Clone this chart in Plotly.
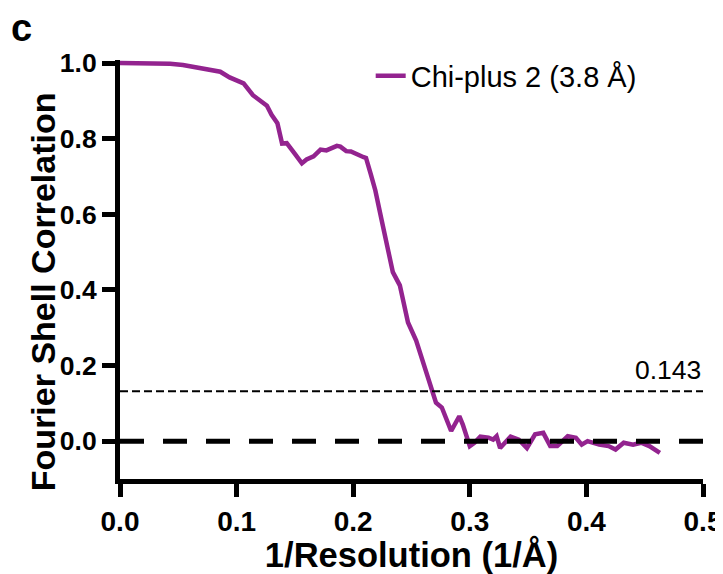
import plotly.graph_objects as go

# FSC curve
resolution = [0.000, 0.010, 0.020, 0.030, 0.043, 0.054, 0.066, 0.076, 0.086, 0.094,
              0.106, 0.114, 0.121, 0.126, 0.130, 0.135, 0.139, 0.143, 0.150, 0.156,
              0.160, 0.166, 0.172, 0.177, 0.186, 0.189, 0.194, 0.198, 0.209, 0.211,
              0.215, 0.219, 0.224, 0.227, 0.234, 0.240, 0.247, 0.254, 0.260, 0.267,
              0.271, 0.276, 0.284, 0.291, 0.294, 0.300, 0.304, 0.309, 0.316, 0.320,
              0.323, 0.326, 0.335, 0.342, 0.349, 0.356, 0.363, 0.369, 0.375, 0.384,
              0.391, 0.396, 0.401, 0.411, 0.419, 0.425, 0.432, 0.440, 0.447, 0.454,
              0.463]
fsc = [1.000, 1.000, 1.000, 1.000, 0.998, 0.995, 0.988, 0.984, 0.977, 0.962,
       0.946, 0.915, 0.900, 0.887, 0.863, 0.841, 0.787, 0.788, 0.760, 0.735,
       0.745, 0.753, 0.771, 0.769, 0.781, 0.779, 0.767, 0.766, 0.751, 0.749,
       0.707, 0.663, 0.590, 0.545, 0.447, 0.412, 0.314, 0.266, 0.208, 0.137,
       0.102, 0.089, 0.027, 0.066, 0.044, -0.013, -0.004, 0.012, 0.009, 0.004,
       0.013, -0.018, 0.012, 0.004, -0.018, 0.018, 0.022, -0.013, -0.013, 0.013,
       0.009, -0.009, 0.000, -0.009, -0.013, -0.022, -0.004, -0.009, -0.004, -0.013,
       -0.031]

series_name = 'Chi-plus 2 (3.8 Å)'
threshold_label = '0.143'
threshold_y = 0.132  # where the dotted line sits in the figure
x_ticks = [0.0, 0.1, 0.2, 0.3, 0.4, 0.5]
y_ticks = [0.0, 0.2, 0.4, 0.6, 0.8, 1.0]

FONT = 'Liberation Sans'
PURPLE = '#93238F'


def make_fsc_plot():
    fig = go.Figure()

    fig.add_trace(go.Scatter(
        x=resolution, y=fsc, mode='lines', name=series_name,
        line=dict(color=PURPLE, width=4.5)
    ))

    # zero line and FSC threshold
    fig.add_hline(y=0, line=dict(color='black', width=5, dash='24px,19px'))
    fig.add_hline(y=threshold_y, line=dict(color='black', width=2, dash='8px,4px'))

    fig.add_annotation(x=0.5, y=0.188, xref='x', yref='y', text=threshold_label,
                       showarrow=False, xanchor='right', yanchor='middle',
                       font=dict(family=FONT, size=26.5, color='black'))
    fig.add_annotation(x=-0.19, y=1.077, xref='paper', yref='paper', text='c',
                       showarrow=False, xanchor='left', yanchor='middle',
                       font=dict(family=FONT, size=38, color='black', weight='bold'))
    # y title sits a little below the middle of the axis in the original
    fig.add_annotation(x=-0.132, y=0.446, xref='paper', yref='paper',
                       text='Fourier Shell Correlation', textangle=-90,
                       showarrow=False, xanchor='center', yanchor='middle',
                       font=dict(family=FONT, size=34, color='black', weight='bold'))

    axis_style = dict(
        showline=True, linecolor='black', linewidth=5,
        ticks='outside', tickwidth=5, tickcolor='black',
        showgrid=False, zeroline=False, automargin=False,
        tickformat='.1f',
    )

    fig.update_xaxes(range=[0, 0.5], tickvals=x_ticks, ticklen=13,
                     tickfont=dict(family=FONT, size=28, color='black', weight='bold'),
                     title=dict(text='1/Resolution (1/Å)', standoff=18,
                                font=dict(family=FONT, size=34.5, color='black', weight='bold')),
                     **axis_style)
    fig.update_yaxes(range=[-0.1, 1.008], tickvals=y_ticks, ticklen=13,
                     tickfont=dict(family=FONT, size=26.5, color='black', weight='bold'),
                     **axis_style)

    # the page body adds an 8px offset, so the figure is 8px smaller than the window
    fig.update_layout(
        width=715, height=566,
        margin=dict(l=112, r=20, t=52, b=95),
        plot_bgcolor='white', paper_bgcolor='white',
        showlegend=True,
        legend=dict(x=0.43, y=0.962, xanchor='left', yanchor='middle',
                    bgcolor='rgba(0,0,0,0)',
                    font=dict(family=FONT, size=29, color='black')),
    )

    return fig


def main():
    fig = make_fsc_plot()
    fig.write_html("out.html")


if __name__ == '__main__':
    main()
